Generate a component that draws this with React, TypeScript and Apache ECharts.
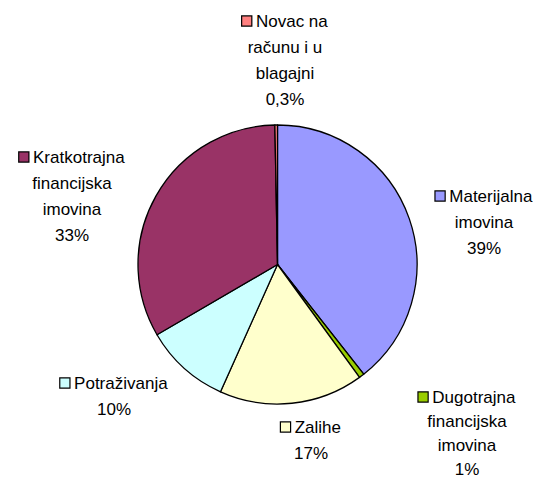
import React, { useEffect, useRef } from "react";
import * as echarts from "echarts";

const categories = [
  ["Materijalna", "imovina"],
  ["Dugotrajna", "financijska", "imovina"],
  ["Zalihe"],
  ["Potraživanja"],
  ["Kratkotrajna", "financijska", "imovina"],
  ["Novac na", "računu i u", "blagajni"],
];
const values = [39.4, 0.6, 16.7, 9.9, 33.1, 0.3];
const colors = ["#9999FF", "#99CC00", "#FFFFCC", "#CCFFFF", "#993366", "#FF8080"];

// label block centres and line heights (layout, not data)
const labelPos = [
  [484, 222],
  [467, 433],
  [311, 440],
  [114, 396],
  [72, 196],
  [285, 60],
];
const labelLineHeight = [26, 24, 26, 26, 26, 26];

const fmtPct = (v: number) =>
  v < 0.5 ? v.toFixed(1).replace(".", ",") + "%" : Math.round(v) + "%";

export default function App() {
  const ref = useRef<HTMLDivElement>(null);
  useEffect(() => {
    if (!ref.current) return;
    const chart = echarts.init(ref.current, null, { renderer: "svg" });
    const data = categories.map((lines, i) => ({
      name: lines.join(" "),
      value: values[i],
      itemStyle: { color: colors[i] },
      label: {
        rich: {
          t: {
            fontSize: 17,
            lineHeight: labelLineHeight[i],
            color: "#000",
            align: "center",
            fontFamily: "Liberation Sans, Arial, sans-serif",
          },
          m: {
            width: 9,
            height: 9,
            backgroundColor: colors[i],
            borderColor: "#000",
            borderWidth: 1.2,
            align: "center",
          },
        },
        formatter: () => {
          const parts = lines.map((l, j) => (j === 0 ? `{m|}{t| ${l}}` : `{t|${l}}`));
          parts.push(`{t|${fmtPct(values[i])}}`);
          return parts.join("\n");
        },
      },
    }));
    chart.setOption({
      animation: false,
      backgroundColor: "#fff",
      series: [
        {
          type: "pie",
          center: [277.5, 264.5],
          radius: 139.5,
          startAngle: 90,
          clockwise: true,
          avoidLabelOverlap: false,
          itemStyle: { borderColor: "#000", borderWidth: 1.3 },
          label: {
            show: true,
            position: "outside",
            fontFamily: "Liberation Sans, Arial, sans-serif",
          },
          labelLine: { show: false },
          labelLayout: (p: any) => ({
            x: labelPos[p.dataIndex][0],
            y: labelPos[p.dataIndex][1],
            align: "center",
            verticalAlign: "middle",
          }),
          emphasis: { disabled: true },
          data,
        },
      ],
    });
    return () => chart.dispose();
  }, []);
  return (
    <div
      ref={ref}
      style={{ position: "fixed", left: 0, top: 0, width: 533, height: 479 }}
    />
  );
}
